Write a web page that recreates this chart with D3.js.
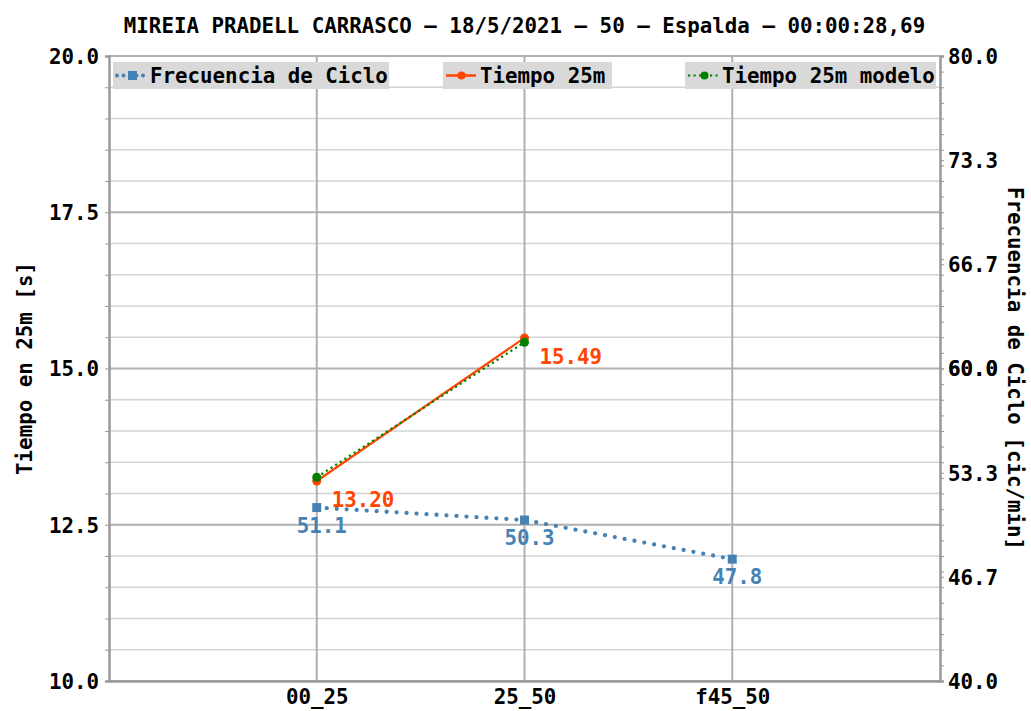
<!DOCTYPE html>
<html><head><meta charset="utf-8">
<script src="https://cdn.jsdelivr.net/npm/d3@7"></script>
<style>
body{margin:0;background:#fff;}
text{font-family:"DejaVu Sans Mono",monospace;font-weight:bold;}
</style></head>
<body><svg id="c" width="1031" height="711"></svg>
<script>
const title = "MIREIA PRADELL CARRASCO – 18/5/2021 – 50 – Espalda – 00:00:28,69";
const categories = ["00_25", "25_50", "f45_50"];
const tiempo = [13.20, 15.49];
const tiempoModelo = [13.26, 15.42];
const frecuencia = [51.1, 50.3, 47.8];
const leftTicks = [10, 12.5, 15, 17.5, 20];
const rightTicks = [40, 46.67, 53.33, 60, 66.67, 73.33, 80];
const rightTickLabels = ["40.0","46.7","53.3","60.0","66.7","73.3","80.0"];
const legendLabels = ["Frecuencia de Ciclo", "Tiempo 25m", "Tiempo 25m modelo"];

const svg = d3.select("#c");
const L = 109, R = 940, T = 56, B = 681;
const x = d3.scaleLinear().domain([0, categories.length + 1]).range([L, R]);
const yL = d3.scaleLinear().domain([10, 20]).range([B, T]);
const yR = d3.scaleLinear().domain([40, 80]).range([B, T]);
const blue = "#4682b4", red = "#ff4500", green = "#008000";
const fs = "20.8px";

// grid
const minor = d3.range(10, 20.001, 0.5).filter(v => Math.abs(v / 2.5 - Math.round(v / 2.5)) > 1e-6);
svg.append("g").selectAll("line").data(minor).join("line")
  .attr("x1", L).attr("x2", R).attr("y1", d => yL(d)).attr("y2", d => yL(d))
  .attr("stroke", "#d3d3d3").attr("stroke-width", 1.5);
svg.append("g").selectAll("line").data(leftTicks).join("line")
  .attr("x1", L).attr("x2", R).attr("y1", d => yL(d)).attr("y2", d => yL(d))
  .attr("stroke", "#b0b0b0").attr("stroke-width", 2);
svg.append("g").selectAll("line").data(categories).join("line")
  .attr("x1", (d, i) => x(i + 1)).attr("x2", (d, i) => x(i + 1)).attr("y1", T).attr("y2", B)
  .attr("stroke", "#b0b0b0").attr("stroke-width", 2);

// axes
const gL = svg.append("g").attr("transform", `translate(${L},0)`)
  .call(d3.axisLeft(yL).tickValues(d3.range(10, 20.001, 0.5)).tickSize(4).tickFormat(d => leftTicks.includes(d) ? d.toFixed(1) : ""));
const gR = svg.append("g").attr("transform", `translate(${R},0)`)
  .call(d3.axisRight(yR).tickValues(rightTicks.concat(d3.range(41, 80, 1))).tickSize(4)
    .tickFormat(d => { const i = rightTicks.indexOf(d); return i >= 0 ? rightTickLabels[i] : ""; }));
const gB = svg.append("g").attr("transform", `translate(0,${B})`)
  .call(d3.axisBottom(x).tickValues(categories.map((d, i) => i + 1)).tickSize(0).tickFormat((d) => categories[d - 1]));
[gL, gR, gB].forEach(g => {
  g.select(".domain").attr("stroke", "#999").attr("stroke-width", 2.5);
  g.selectAll(".tick line").attr("stroke", "#999").attr("stroke-width", 1);
  g.selectAll(".tick text").attr("fill", "#000").style("font-size", fs)
    .style("font-family", "DejaVu Sans Mono").style("font-weight", "bold");
});
gL.selectAll(".tick text").attr("x", -10).attr("dy", "0.35em");
gR.selectAll(".tick text").attr("x", 8).attr("dy", "0.35em");
gB.selectAll(".tick text").attr("dy", "0").attr("y", 23);

// titles
svg.append("text").attr("x", (L + R) / 2).attr("y", 33).attr("text-anchor", "middle").style("font-size", fs).text(title);
svg.append("text").attr("transform", `translate(32,${(T + B) / 2}) rotate(-90)`).attr("text-anchor", "middle")
  .style("font-size", fs).text("Tiempo en 25m [s]");
svg.append("text").attr("transform", `translate(1008,${(T + B) / 2}) rotate(90)`).attr("text-anchor", "middle")
  .style("font-size", fs).text("Frecuencia de Ciclo [cic/min]");

// series
const lineF = d3.line().x((d, i) => x(i + 1)).y(d => yR(d));
const lineT = d3.line().x((d, i) => x(i + 1)).y(d => yL(d));
svg.append("path").attr("d", lineF(frecuencia)).attr("fill", "none").attr("stroke", blue)
  .attr("stroke-width", 4.3).attr("stroke-linecap", "round").attr("stroke-dasharray", "0 10");
svg.append("g").selectAll("rect").data(frecuencia).join("rect")
  .attr("x", (d, i) => x(i + 1) - 4.5).attr("y", d => yR(d) - 4.5).attr("width", 9).attr("height", 9).attr("fill", blue);
svg.append("path").attr("d", lineT(tiempo)).attr("fill", "none").attr("stroke", red).attr("stroke-width", 2.2);
svg.append("g").selectAll("circle").data(tiempo).join("circle")
  .attr("cx", (d, i) => x(i + 1)).attr("cy", d => yL(d)).attr("r", 4.5).attr("fill", red);
svg.append("path").attr("d", lineT(tiempoModelo)).attr("fill", "none").attr("stroke", green)
  .attr("stroke-width", 2.2).attr("stroke-dasharray", "2.2 3.3");
svg.append("g").selectAll("circle").data(tiempoModelo).join("circle")
  .attr("cx", (d, i) => x(i + 1)).attr("cy", d => yL(d)).attr("r", 4.5).attr("fill", green);

// value labels
svg.append("g").selectAll("text").data(tiempo).join("text")
  .attr("x", (d, i) => x(i + 1) + 15).attr("y", d => yL(d) + 26).attr("fill", red).style("font-size", fs)
  .text(d => d.toFixed(2));
svg.append("g").selectAll("text").data(frecuencia).join("text")
  .attr("x", (d, i) => x(i + 1) + 5).attr("y", d => yR(d) + 25).attr("text-anchor", "middle").attr("fill", blue).style("font-size", fs)
  .text(d => d.toFixed(1));

// legend
const legBoxes = [[113, 389], [443, 612], [685, 936]];
const lg = svg.append("g");
legBoxes.forEach((b, i) => {
  lg.append("rect").attr("x", b[0]).attr("y", 62).attr("width", b[1] - b[0]).attr("height", 27).attr("fill", "#d9d9d9");
  const sx = b[0] + 3, ex = b[0] + 36, cx = (sx + ex) / 2, cy = 75.5;
  if (i === 0) {
    lg.append("line").attr("x1", sx + 1).attr("x2", ex).attr("y1", cy).attr("y2", cy).attr("stroke", blue)
      .attr("stroke-width", 4).attr("stroke-linecap", "round").attr("stroke-dasharray", "0 6.5");
    lg.append("rect").attr("x", cx - 4.5).attr("y", cy - 4.5).attr("width", 9).attr("height", 9).attr("fill", blue);
  } else if (i === 1) {
    lg.append("line").attr("x1", sx).attr("x2", ex - 3).attr("y1", cy).attr("y2", cy).attr("stroke", red).attr("stroke-width", 2.5);
    lg.append("circle").attr("cx", cx - 1).attr("cy", cy).attr("r", 4).attr("fill", red);
  } else {
    lg.append("line").attr("x1", sx).attr("x2", ex - 1).attr("y1", cy).attr("y2", cy).attr("stroke", green)
      .attr("stroke-width", 2.2).attr("stroke-dasharray", "2.2 3.3");
    lg.append("circle").attr("cx", cx).attr("cy", cy).attr("r", 4).attr("fill", green);
  }
  lg.append("text").attr("x", ex + 1).attr("y", 83).style("font-size", fs).attr("fill", "#000").text(legendLabels[i]);
});
</script></body></html>
